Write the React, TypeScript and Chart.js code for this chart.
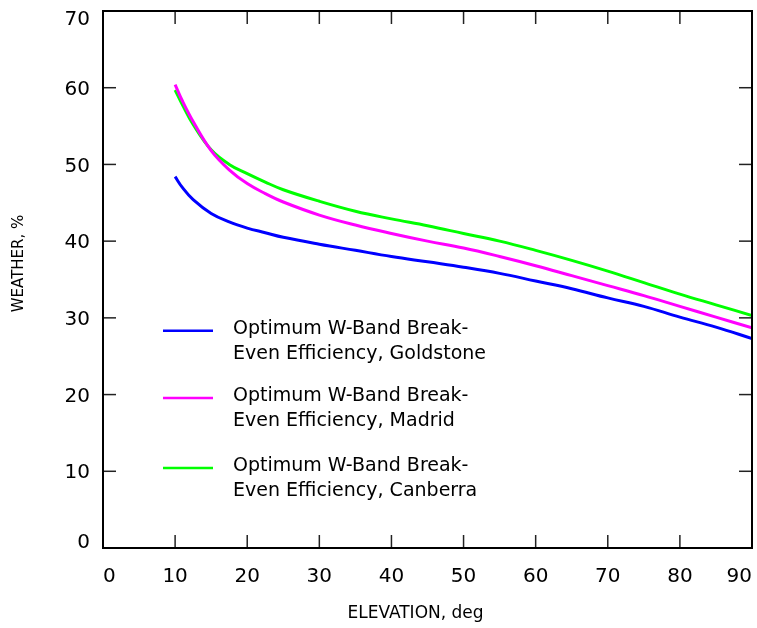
import React, { useEffect, useRef } from "react";
import { Chart, registerables } from "chart.js";

Chart.register(...registerables);

const elevation = [10, 11, 12.5, 15, 17.5, 20, 22.5, 25, 30, 35, 40, 45, 50, 55, 60, 65, 70, 75, 80, 85, 90];
const goldstone = [48.4, 47.0, 45.4, 43.6, 42.5, 41.7, 41.1, 40.5, 39.6, 38.8, 38.0, 37.3, 36.6, 35.8, 34.8, 33.8, 32.6, 31.5, 30.1, 28.8, 27.3];
const madrid = [60.4, 58.3, 55.6, 51.8, 49.3, 47.5, 46.2, 45.1, 43.4, 42.1, 41.0, 40.0, 39.1, 38.0, 36.8, 35.5, 34.2, 32.9, 31.5, 30.1, 28.7];
const canberra = [59.7, 57.8, 55.2, 51.9, 50.0, 48.8, 47.7, 46.7, 45.2, 43.9, 42.9, 42.0, 41.0, 40.0, 38.8, 37.5, 36.1, 34.6, 33.1, 31.7, 30.3];

const seriesNames = [
  ["Optimum W-Band Break-", "Even Efficiency, Goldstone"],
  ["Optimum W-Band Break-", "Even Efficiency, Madrid"],
  ["Optimum W-Band Break-", "Even Efficiency, Canberra"],
];
const seriesColors = ["#0000ff", "#ff00ff", "#00ff00"];
const seriesValues = [goldstone, madrid, canberra];

const xTitle = "ELEVATION, deg";
const yTitle = "WEATHER, %";

const FONT = "'DejaVu Sans', sans-serif";

const overlayPlugin = {
  id: "overlay",
  afterDatasetsDraw(chart: any) {
    const { ctx, chartArea: a, scales } = chart;
    const xs = scales.x;
    const ys = scales.y;
    const TICK = 13;
    ctx.save();
    ctx.strokeStyle = "#222";
    ctx.lineWidth = 1.5;
    const seg = (x1: number, y1: number, x2: number, y2: number) => {
      ctx.beginPath();
      ctx.moveTo(x1, y1);
      ctx.lineTo(x2, y2);
      ctx.stroke();
    };
    xs.ticks.forEach((t: any) => {
      if (t.value <= xs.min || t.value >= xs.max) return;
      const px = xs.getPixelForValue(t.value);
      seg(px, a.bottom, px, a.bottom - TICK);
      seg(px, a.top, px, a.top + TICK);
    });
    ys.ticks.forEach((t: any) => {
      if (t.value <= ys.min || t.value >= ys.max) return;
      const py = ys.getPixelForValue(t.value);
      seg(a.left, py, a.left + TICK, py);
      seg(a.right, py, a.right - TICK, py);
    });
    ctx.strokeStyle = "#000";
    ctx.lineWidth = 2;
    ctx.strokeRect(a.left, a.top, a.right - a.left, a.bottom - a.top);

    // y tick labels (first/last kept inside the frame)
    ctx.fillStyle = "#000";
    ctx.font = `20px ${FONT}`;
    ctx.textAlign = "right";
    ctx.textBaseline = "middle";
    ys.ticks.forEach((t: any) => {
      let py = ys.getPixelForValue(t.value) + 2;
      if (t.value >= ys.max) py = a.top + 9;
      if (t.value <= ys.min) py = a.bottom - 5;
      ctx.fillText(t.label, a.left - 13, py);
    });

    // legend
    const legendTops = [319.7, 387, 457];
    ctx.font = `19px ${FONT}`;
    ctx.textBaseline = "middle";
    ctx.textAlign = "left";
    seriesNames.forEach((lines, i) => {
      const ly = a.top + legendTops[i];
      ctx.strokeStyle = seriesColors[i];
      ctx.lineWidth = 2.5;
      seg(a.left + 60, ly, a.left + 110, ly);
      lines.forEach((txt, j) => {
        ctx.fillText(txt, a.left + 130, ly - 2 + j * 25);
      });
    });

    // x title
    ctx.textAlign = "center";
    ctx.font = `17px ${FONT}`;
    ctx.fillText(xTitle, (a.left + a.right) / 2 - 12, a.bottom + 66);

    // y title
    ctx.translate(19, (a.top + a.bottom) / 2 - 16);
    ctx.rotate(-Math.PI / 2);
    ctx.textAlign = "center";
    ctx.textBaseline = "middle";
    ctx.font = `15px ${FONT}`;
    ctx.fillText(yTitle, 0, 0);
    ctx.restore();
  },
};

export default function App() {
  const ref = useRef<HTMLCanvasElement | null>(null);
  useEffect(() => {
    if (!ref.current) return;
    const chart = new Chart(ref.current, {
      type: "line",
      data: {
        datasets: seriesValues.map((vals, i) => ({
          label: seriesNames[i].join(" "),
          data: elevation.map((x, k) => ({ x, y: vals[k] })),
          borderColor: seriesColors[i],
          backgroundColor: seriesColors[i],
          borderWidth: 3,
          pointRadius: 0,
          fill: false,
          tension: 0.4,
        })),
      },
      options: {
        responsive: false,
        animation: false,
        layout: { padding: { top: 11, right: 5, left: 0, bottom: 0 } },
        plugins: { legend: { display: false }, tooltip: { enabled: false } },
        scales: {
          x: {
            type: "linear",
            min: 0,
            max: 90,
            ticks: { stepSize: 10, color: "#000", font: { family: FONT, size: 20 }, padding: 17, maxRotation: 0, align: "inner" },
            grid: { display: false, drawTicks: false },
            border: { display: false },
            afterFit: (s: any) => {
              s.height = 80;
              s.paddingLeft = 0;
              s.paddingRight = 0;
            },
          },
          y: {
            type: "linear",
            min: 0,
            max: 70,
            ticks: { stepSize: 10, display: false, font: { family: FONT, size: 20 } },
            grid: { display: false, drawTicks: false },
            border: { display: false },
            afterFit: (s: any) => {
              s.width = 103;
              s.paddingTop = 0;
              s.paddingBottom = 0;
            },
          },
        },
      },
      plugins: [overlayPlugin],
    } as any);
    return () => chart.destroy();
  }, []);
  return (
    <div style={{ position: "fixed", left: 0, top: 0, width: 757, height: 628, background: "#fff" }}>
      <canvas ref={ref} width={757} height={628} style={{ display: "block" }} />
    </div>
  );
}
